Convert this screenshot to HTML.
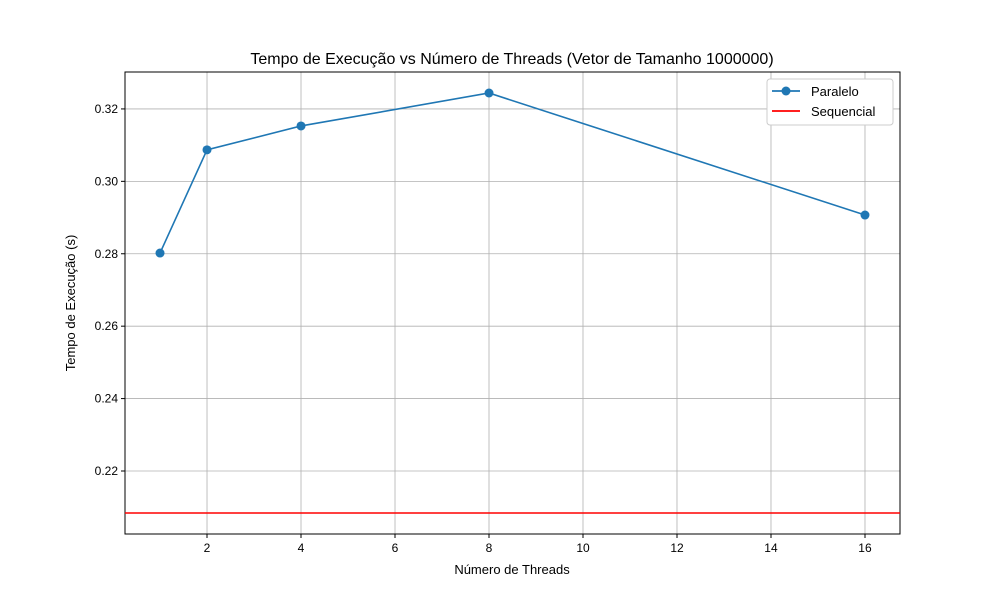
<!DOCTYPE html>
<html><head><meta charset="utf-8"><style>
body{margin:0;background:#fff;}
svg{font-family:"Liberation Sans","DejaVu Sans",sans-serif;}
</style></head><body>
<svg id="chart" width="1000" height="600" xmlns="http://www.w3.org/2000/svg">
<rect width="1000" height="600" fill="#fff"/>
<g id="grid"></g><g id="axes"></g><g id="series"></g>
<text x="512" y="64" text-anchor="middle" font-size="16">Tempo de Execução vs Número de Threads (Vetor de Tamanho 1000000)</text>
<text x="512" y="574" text-anchor="middle" font-size="13">Número de Threads</text>
<text transform="translate(75,303) rotate(-90)" text-anchor="middle" font-size="13">Tempo de Execução (s)</text>
<g>
<rect x="767" y="79" width="126" height="46" fill="#fff" stroke="#ccc" rx="3"/>
<line x1="772" y1="91" x2="800" y2="91" stroke="#1f77b4" stroke-width="1.8"/>
<circle cx="786" cy="91" r="4.5" fill="#1f77b4"/>
<text x="811" y="96" font-size="13">Paralelo</text>
<line x1="772" y1="111" x2="800" y2="111" stroke="#ff0000" stroke-width="1.8"/>
<text x="811" y="116" font-size="13">Sequencial</text>
</g>
</svg>
<script>
const threads=[1,2,4,8,16];
const paralelo=[0.2802,0.3087,0.3153,0.3244,0.2907];
const sequencial=0.2084;
const xTicks=[2,4,6,8,10,12,14,16];
const yTicks=[0.22,0.24,0.26,0.28,0.30,0.32];
const L=125,R=900,T=72,B=534;
const xMin=0.255,xMax=16.745,yMin=0.2026,yMax=0.3302;
const sx=v=>L+(v-xMin)/(xMax-xMin)*(R-L);
const sy=v=>B-(v-yMin)/(yMax-yMin)*(B-T);
const NS="http://www.w3.org/2000/svg";
function mk(p,t,a){const e=document.createElementNS(NS,t);for(const k in a)e.setAttribute(k,a[k]);p.appendChild(e);return e;}
const g=document.getElementById('grid'),ax=document.getElementById('axes'),s=document.getElementById('series');
xTicks.forEach(v=>{const x=sx(v);
const l=mk(g,'line',{x1:x,x2:x,y1:T,y2:B,stroke:'#b0b0b0','stroke-width':0.8});


mk(ax,'line',{x1:x,x2:x,y1:B,y2:B+4,stroke:'#000'});
const t=mk(ax,'text',{x:x,y:B+18,'text-anchor':'middle','font-size':12});t.textContent=v;

});
yTicks.forEach(v=>{const y=sy(v);
const l=mk(g,'line',{x1:L,x2:R,y1:y,y2:y,stroke:'#b0b0b0','stroke-width':0.8});


mk(ax,'line',{x1:L-4,x2:L,y1:y,y2:y,stroke:'#000'});
const t=mk(ax,'text',{x:L-7,y:y+4,'text-anchor':'end','font-size':12});t.textContent=v.toFixed(2);

});
const fr=mk(ax,'rect',{x:L,y:T,width:R-L,height:B-T,fill:'none',stroke:'#000','stroke-width':1});


const sl=mk(s,'line',{x1:L,x2:R,y1:sy(sequencial),y2:sy(sequencial),stroke:'#ff0000','stroke-width':1.6});


const pl=mk(s,'polyline',{points:threads.map((t,i)=>sx(t)+','+sy(paralelo[i])).join(' '),fill:'none',stroke:'#1f77b4','stroke-width':1.6});


threads.forEach((t,i)=>{const c=mk(s,'circle',{cx:sx(t),cy:sy(paralelo[i]),r:4.5,fill:'#1f77b4'});

});
</script>
</body></html>
